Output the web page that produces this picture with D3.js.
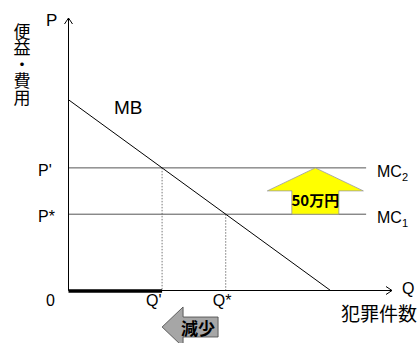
<!DOCTYPE html>
<html>
<head>
<meta charset="utf-8">
<script src="https://cdn.jsdelivr.net/npm/d3@7"></script>
<style>
  html, body { margin: 0; padding: 0; background: #fff; }
  svg { display: block; }
  text { font-family: "Liberation Sans", Arial, sans-serif; fill: #000; }
  .jp { font-family: "Noto Sans CJK JP", sans-serif; }
  .vert { writing-mode: vertical-rl; text-orientation: upright; }
</style>
</head>
<body>
<script>
// Marginal benefit of crime prevention (Q, P) endpoints
const mbPoints = [[0, 70], [81, 0]];
// Marginal cost levels: MC1 before, MC2 after the cost rise
const mcLevels = [28, 45];
const mcNames = ["MC", "MC"];
const mcSubs = ["1", "2"];
const mcEndQ = 92;
const priceLabels = ["P*", "P'"];
const qLabels = ["Q*", "Q'"];
const yAxisTitle = "便益・費用";
const xAxisTitle = "犯罪件数";
const riseLabel = "50万円";
const dropLabel = "減少";
const riseArrowQ = 76.3;

const W = 420, H = 343;
const svg = d3.select("body").append("svg").attr("width", W).attr("height", H);

const x = d3.scaleLinear().domain([0, 100]).range([68.5, 392]);
const y = d3.scaleLinear().domain([0, 100]).range([290.5, 18]);

// Q where MB meets a given price level
const mbAt = p => mbPoints[1][0] * (1 - p / mbPoints[0][1]);
const qStar = mcLevels.map(mbAt);

// Dotted drop lines from the intersections
svg.selectAll("line.drop").data(mcLevels).join("line")
  .attr("x1", (d, i) => x(qStar[i])).attr("x2", (d, i) => x(qStar[i]))
  .attr("y1", d => y(d)).attr("y2", y(0))
  .attr("stroke", "#777").attr("stroke-width", 1).attr("stroke-dasharray", "1.5,1.5");

// MC lines
svg.selectAll("line.mc").data(mcLevels).join("line")
  .attr("x1", x(0)).attr("x2", x(mcEndQ))
  .attr("y1", d => y(d)).attr("y2", d => y(d))
  .attr("stroke", "#555").attr("stroke-width", 1);

// MB line
svg.append("path")
  .attr("d", d3.line().x(d => x(d[0])).y(d => y(d[1]))(mbPoints))
  .attr("fill", "none").attr("stroke", "#000").attr("stroke-width", 1);

// Axes with open arrowheads
const axisG = svg.append("g").attr("stroke", "#000").attr("fill", "none").attr("stroke-width", 1);
axisG.append("line").attr("x1", x(0)).attr("y1", y(0)).attr("x2", x(0)).attr("y2", y(100));
axisG.append("path").attr("d", `M${x(0) - 4},${y(100) + 6}L${x(0)},${y(100)}L${x(0) + 4},${y(100) + 6}`);
axisG.append("line").attr("x1", x(0)).attr("y1", y(0)).attr("x2", x(100)).attr("y2", y(0));
axisG.append("path").attr("d", `M${x(100) - 6},${y(0) - 4}L${x(100)},${y(0)}L${x(100) - 6},${y(0) + 4}`);

// Reduced crime range: 0 to Q'
svg.append("line")
  .attr("x1", x(0)).attr("x2", x(qStar[1]))
  .attr("y1", y(0) + 0.5).attr("y2", y(0) + 0.5)
  .attr("stroke", "#000").attr("stroke-width", 3.5);

// Upward arrow for the cost increase
{
  const cx = x(riseArrowQ), top = y(mcLevels[1]), bot = y(mcLevels[0]);
  const headH = 23, headW = 48, shaftW = 23.5;
  const pts = [[cx, top], [cx + headW, top + headH], [cx + shaftW, top + headH], [cx + shaftW, bot],
               [cx - shaftW, bot], [cx - shaftW, top + headH], [cx - headW, top + headH]];
  svg.append("polygon").attr("points", pts.map(p => p.join(",")).join(" "))
    .attr("fill", "#ffff00").attr("stroke", "#999").attr("stroke-width", 0.8);
  svg.append("text").attr("class", "jp").attr("x", cx).attr("y", top + 32)
    .attr("text-anchor", "middle").attr("dominant-baseline", "central")
    .attr("font-size", 15).attr("font-weight", "bold").text(riseLabel);
}

// Leftward arrow for the drop in crime count
{
  const tipX = x(qStar[1]), cy = 327;
  const headL = 21, headH = 20, bodyH = 10, bodyR = tipX + 56;
  const pts = [[tipX, cy], [tipX + headL, cy - headH], [tipX + headL, cy - bodyH], [bodyR, cy - bodyH],
               [bodyR, cy + bodyH], [tipX + headL, cy + bodyH], [tipX + headL, cy + headH]];
  svg.append("polygon").attr("points", pts.map(p => p.join(",")).join(" "))
    .attr("fill", "#a6a6a6").attr("stroke", "#444").attr("stroke-width", 0.8);
  svg.append("text").attr("class", "jp").attr("x", tipX + 36).attr("y", cy)
    .attr("text-anchor", "middle").attr("dominant-baseline", "central")
    .attr("font-size", 17).attr("font-weight", "bold").text(dropLabel);
}

// Text labels
svg.append("text").attr("x", 46).attr("y", 26).attr("font-size", 17).text("P");
svg.append("text").attr("x", 402).attr("y", 294).attr("font-size", 16).text("Q");
svg.append("text").attr("x", 46).attr("y", 306).attr("font-size", 16).text("0");
svg.append("text").attr("x", 114).attr("y", 114).attr("font-size", 19).text("MB");

svg.selectAll("text.plab").data(mcLevels).join("text")
  .attr("x", 38).attr("y", d => y(d) + 8).attr("font-size", 16)
  .text((d, i) => priceLabels[i]);

svg.selectAll("text.qlab").data(qStar).join("text")
  .attr("x", (d, i) => x(d) - (i === 1 ? 16 : 13)).attr("y", 306).attr("font-size", 16)
  .text((d, i) => qLabels[i]);

const mcText = svg.selectAll("text.mclab").data(mcLevels).join("text")
  .attr("x", 377).attr("y", d => y(d) + 9).attr("font-size", 16);
mcText.append("tspan").text((d, i) => mcNames[i]);
mcText.append("tspan").attr("font-size", 11).attr("dy", 4).text((d, i) => mcSubs[i]);

// Vertical y-axis title
svg.append("text").attr("class", "jp vert")
  .attr("x", 22).attr("y", 23)
  .attr("font-size", 17).attr("letter-spacing", -0.5)
  .text(yAxisTitle);

svg.append("text").attr("class", "jp").attr("x", 341).attr("y", 321)
  .attr("font-size", 19).text(xAxisTitle);
</script>
</body>
</html>
